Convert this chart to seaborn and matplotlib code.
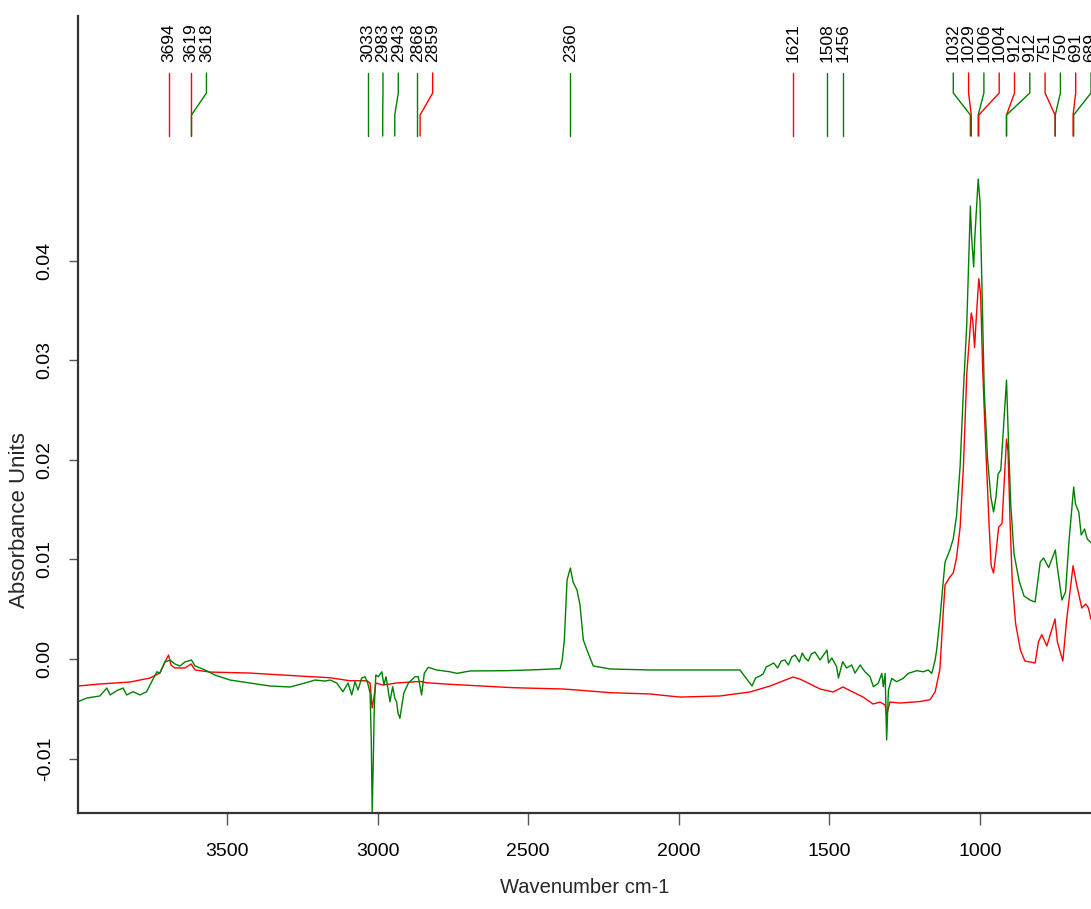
import matplotlib
matplotlib.use("Agg")
import matplotlib.pyplot as plt
import matplotlib.transforms as mtransforms
from matplotlib.ticker import FixedLocator, FormatStrFormatter
import pandas as pd
import seaborn as sns

# ---------------- data ----------------
red_wn = [3995, 3922, 3822, 3756, 3723, 3706, 3694, 3686, 3673, 3640, 3619, 3606,
          3556, 3424, 3258, 3158, 3092, 3036, 3025, 3018, 3012, 3006, 2982, 2937,
          2859, 2837, 2776, 2550, 2384, 2339, 2228, 2096, 1996, 1863, 1764, 1697,
          1621, 1598, 1564, 1531, 1488, 1455, 1422, 1388, 1355, 1332, 1315, 1310,
          1299, 1266, 1199, 1166, 1149, 1133, 1122, 1116, 1100, 1089, 1078, 1066,
          1055, 1044, 1029, 1024, 1018, 1013, 1004, 998, 991, 981, 970, 963, 955,
          946, 938, 927, 912, 907, 900, 893, 882, 866, 851, 817, 806, 795, 778,
          751, 743, 725, 712, 691, 679, 662, 649, 640, 632]
red_abs = [-0.00271, -0.00251, -0.00231, -0.00191, -0.00141, -0.00030, 0.00040,
           -0.00060, -0.00090, -0.00090, -0.00050, -0.00110, -0.00131, -0.00141,
           -0.00171, -0.00188, -0.00218, -0.00218, -0.00241, -0.00492, -0.00382,
           -0.00241, -0.00261, -0.00241, -0.00225, -0.00238, -0.00251, -0.00288,
           -0.00301, -0.00311, -0.00338, -0.00351, -0.00382, -0.00371, -0.00331,
           -0.00271, -0.00181, -0.00201, -0.00251, -0.00301, -0.00331, -0.00281,
           -0.00331, -0.00382, -0.00452, -0.00432, -0.00462, -0.00562, -0.00432,
           -0.00442, -0.00427, -0.00408, -0.00331, -0.00100, 0.00476, 0.00745,
           0.00823, 0.00863, 0.01014, 0.01325, 0.01938, 0.02861, 0.03474, 0.03397,
           0.03127, 0.03397, 0.03819, 0.03665, 0.02897, 0.02129, 0.01359, 0.00937,
           0.00863, 0.01094, 0.01325, 0.01359, 0.02209, 0.02088, 0.01359, 0.00783,
           0.00361, 0.00090, -0.00020, -0.00040, 0.00171, 0.00245, 0.00131,
           0.00402, 0.00171, -0.00020, 0.00402, 0.00937, 0.00743, 0.00512,
           0.00552, 0.00512, 0.00402]

green_wn = [3995, 3966, 3922, 3899, 3888, 3866, 3845, 3833, 3812, 3789, 3767, 3750,
            3733, 3723, 3706, 3689, 3673, 3656, 3640, 3618, 3606, 3573, 3540, 3490,
            3424, 3357, 3291, 3241, 3208, 3175, 3158, 3136, 3115, 3098, 3086, 3075,
            3065, 3053, 3042, 3033, 3025, 3021, 3018, 3014, 3011, 3006, 2998, 2986,
            2979, 2972, 2965, 2959, 2950, 2943, 2937, 2932, 2926, 2920, 2913, 2898,
            2876, 2865, 2854, 2845, 2832, 2804, 2760, 2737, 2693, 2571, 2494, 2394,
            2387, 2380, 2371, 2360, 2351, 2338, 2328, 2317, 2301, 2284, 2228, 2096,
            1930, 1797, 1757, 1745, 1731, 1720, 1710, 1697, 1685, 1672, 1660, 1648,
            1636, 1625, 1614, 1600, 1590, 1581, 1570, 1560, 1548, 1531, 1508, 1503,
            1492, 1476, 1470, 1456, 1443, 1426, 1415, 1398, 1382, 1365, 1354, 1338,
            1326, 1321, 1315, 1310, 1304, 1293, 1277, 1255, 1238, 1210, 1188, 1172,
            1160, 1149, 1144, 1133, 1122, 1116, 1100, 1089, 1078, 1066, 1055, 1044,
            1032, 1028, 1021, 1017, 1006, 1000, 995, 986, 975, 964, 955, 947, 940,
            931, 922, 912, 907, 898, 887, 870, 854, 834, 817, 800, 789, 772, 750,
            744, 728, 716, 705, 689, 683, 672, 664, 653, 644, 630]
green_abs = [-0.00429, -0.00392, -0.00371, -0.00291, -0.00361, -0.00318, -0.00291,
             -0.00361, -0.00328, -0.00361, -0.00328, -0.00228, -0.00128, -0.00141,
             -0.00030, -0.00010, -0.00050, -0.00070, -0.00030, -0.00010, -0.00070,
             -0.00110, -0.00161, -0.00211, -0.00241, -0.00271, -0.00281, -0.00241,
             -0.00211, -0.00221, -0.00211, -0.00241, -0.00328, -0.00241, -0.00361,
             -0.00228, -0.00311, -0.00191, -0.00178, -0.00241, -0.00341, -0.00813,
             -0.01533, -0.00981, -0.00479, -0.00161, -0.00178, -0.00128, -0.00261,
             -0.00178, -0.00311, -0.00429, -0.00278, -0.00392, -0.00429, -0.00545,
             -0.00595, -0.00479, -0.00341, -0.00244, -0.00178, -0.00178, -0.00361,
             -0.00144, -0.00083, -0.00110, -0.00128, -0.00144, -0.00120, -0.00117,
             -0.00110, -0.00097, -0.00010, 0.00191, 0.00793, 0.00914, 0.00773,
             0.00693, 0.00542, 0.00191, 0.00060, -0.00070, -0.00100, -0.00110,
             -0.00110, -0.00110, -0.00271, -0.00190, -0.00171, -0.00150, -0.00080,
             -0.00060, -0.00040, -0.00090, -0.00020, -0.00010, -0.00060, 0.00020,
             0.00040, -0.00030, 0.00060, 0.00010, -0.00020, 0.00050, 0.00070,
             -0.00010, 0.00090, -0.00040, 0.00010, -0.00077, -0.00191, -0.00027,
             -0.00090, -0.00060, -0.00141, -0.00060, -0.00128, -0.00178, -0.00278,
             -0.00244, -0.00144, -0.00278, -0.00144, -0.00813, -0.00311, -0.00194,
             -0.00228, -0.00194, -0.00144, -0.00117, -0.00128, -0.00110, -0.00144,
             -0.00010, 0.00090, 0.00402, 0.00783, 0.00974, 0.01094, 0.01205, 0.01436,
             0.01938, 0.02701, 0.03357, 0.04548, 0.04242, 0.03936, 0.04242, 0.04819,
             0.04588, 0.03936, 0.02701, 0.02013, 0.01627, 0.01476, 0.01627, 0.01857,
             0.01898, 0.02319, 0.02801, 0.02319, 0.01556, 0.01054, 0.00783, 0.00633,
             0.00592, 0.00572, 0.00974, 0.01014, 0.00918, 0.01094, 0.00937, 0.00592,
             0.00673, 0.01165, 0.01727, 0.01556, 0.01476, 0.01245, 0.01305, 0.01205,
             0.01165]

peak_wn = [3694, 3619, 3618, 3033, 2983, 2943, 2868, 2859, 2360, 1621, 1508, 1456,
           1032, 1029, 1006, 1004, 912, 912, 751, 750, 691, 689]
peak_series = ["red", "red", "green", "green", "green", "green", "green", "red",
               "green", "red", "green", "green", "green", "red", "green", "red",
               "red", "green", "red", "green", "red", "green"]
peak_labels = [str(v) for v in peak_wn]

x_ticks = [3500, 3000, 2500, 2000, 1500, 1000]
y_ticks = [-0.01, 0.00, 0.01, 0.02, 0.03, 0.04]
x_label = "Wavenumber cm-1"
y_label = "Absorbance Units"

series_colors = {"red": "#ff0000", "green": "#008000"}

# ---------------- styling ----------------
sns.set_style("white")
plt.rcParams["font.family"] = ["Liberation Sans", "DejaVu Sans"]
plt.rcParams["axes.unicode_minus"] = False

fig = plt.figure(figsize=(10.91, 9.09), dpi=100)
left = 78 / 1091
bottom = (909 - 813) / 909
height = (813 - 16) / 909
ax = fig.add_axes([left, bottom, 1 - left, height])

df_red = pd.DataFrame({"wn": red_wn, "absorb": red_abs})
df_green = pd.DataFrame({"wn": green_wn, "absorb": green_abs})

sns.lineplot(data=df_red, x="wn", y="absorb", color=series_colors["red"], lw=1.0,
             sort=False, estimator=None, ax=ax, legend=False)
sns.lineplot(data=df_green, x="wn", y="absorb", color=series_colors["green"], lw=1.0,
             sort=False, estimator=None, ax=ax, legend=False)

xmin, xmax = 3994.7, 631.5
ax.set_xlim(xmin, xmax)
ax.set_ylim(-0.01546, 0.06456)

ax.xaxis.set_major_locator(FixedLocator(x_ticks))
ax.yaxis.set_major_locator(FixedLocator(y_ticks))
ax.yaxis.set_major_formatter(FormatStrFormatter("%.2f"))

for s in ["top", "right"]:
    ax.spines[s].set_visible(False)
for s in ["left", "bottom"]:
    ax.spines[s].set_color("#333333")
    ax.spines[s].set_linewidth(1.6)

ax.tick_params(axis="x", direction="out", length=8.6, width=1, color="#555555",
               pad=13, labelsize=14, labelcolor="black", bottom=True)
ax.tick_params(axis="y", direction="out", length=6.5, width=1, color="#555555",
               pad=11, labelsize=14, labelcolor="black", labelrotation=90, left=True)
for lab in ax.get_yticklabels():
    lab.set_va("center")

ax.set_xlabel(x_label, fontsize=14.5)
ax.xaxis.set_label_coords(0.5, -0.0816)
ax.xaxis.label.set_va("top")
ax.set_ylabel(y_label, fontsize=16)
ax.yaxis.set_label_coords(-0.047, 0.368)

# ---------------- peak labels with leader lines ----------------
gap = 50.8  # minimum label spacing in wavenumber units
pos = list(peak_wn)
for i in range(1, len(pos)):
    pos[i] = min(pos[i], pos[i - 1] - gap)
pos[-1] = max(pos[-1], xmax)
for i in range(len(pos) - 2, -1, -1):
    pos[i] = max(pos[i], pos[i + 1] + gap)

trans = mtransforms.blended_transform_factory(ax.transData, ax.transAxes)
y_top, y_k1, y_k2, y_bot = 0.9285, 0.9034, 0.8758, 0.8494
for wn, p, lab, ser in zip(peak_wn, pos, peak_labels, peak_series):
    ax.plot([p, p, wn, wn], [y_top, y_k1, y_k2, y_bot], transform=trans,
            color=series_colors[ser], lw=1.0, clip_on=False)
    ax.text(p, 0.9423, lab, transform=trans, rotation=90, ha="center", va="bottom",
            fontsize=12.5, color="black", clip_on=False)

fig.savefig("out.png", dpi=100)
